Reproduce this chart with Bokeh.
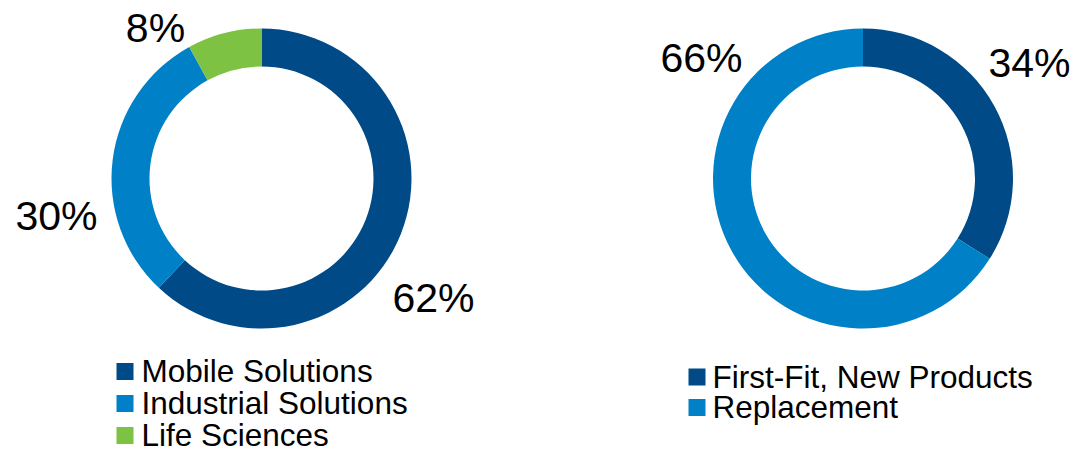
import math
from bokeh.plotting import figure
from bokeh.models import Range1d
from bokeh.core.properties import value
from bokeh.embed import file_html
from bokeh.resources import INLINE

# ---- data ----
seg_categories = ["Mobile Solutions", "Industrial Solutions", "Life Sciences"]
seg_values = [62, 30, 8]
seg_colors = ["#004B87", "#0080C6", "#7DC242"]

fit_categories = ["First-Fit, New Products", "Replacement"]
fit_values = [34, 66]
fit_colors = ["#004B87", "#0080C6"]

# ---- layout (page pixel coordinates) ----
W, H = 1076, 451
FONT = value("Liberation Sans")
TEXT_SHIFT = 10  # baseline correction

p = figure(width=W, height=H, output_backend="svg", toolbar_location=None,
           x_range=Range1d(0, W), y_range=Range1d(0, H),
           x_axis_type=None, y_axis_type=None, min_border=0)
p.grid.visible = False
p.outline_line_color = None
p.background_fill_color = "white"


def Y(py):
    return H - py


def donut(cx, cy, vals, cols, labels_pos):
    total = float(sum(vals))
    cum = 0.0
    starts, ends = [], []
    for v in vals:
        starts.append(math.pi / 2 - 2 * math.pi * cum / total)
        cum += v
        ends.append(math.pi / 2 - 2 * math.pi * cum / total)
    p.annular_wedge(x=[cx] * len(vals), y=[Y(cy)] * len(vals),
                    inner_radius=112, outer_radius=150,
                    start_angle=starts, end_angle=ends, direction="clock",
                    fill_color=cols, line_color=None)
    p.text(x=[lp[0] for lp in labels_pos],
           y=[Y(lp[1] - TEXT_SHIFT) for lp in labels_pos],
           text=[f"{v}%" for v in vals], text_font=FONT, text_font_size="41px",
           text_align="center", text_baseline="alphabetic", text_color="black")


def legend(sx, sy, tx, ty, step, cats, cols):
    n = len(cats)
    p.rect(x=[sx] * n, y=[Y(sy + i * step) for i in range(n)], width=17, height=17,
           fill_color=cols, line_color=None)
    p.text(x=[tx] * n, y=[Y(ty - TEXT_SHIFT + i * step) for i in range(n)], text=cats,
           text_font=FONT, text_font_size="31.5px", text_align="left",
           text_baseline="alphabetic", text_color="black")


donut(261, 178, seg_values, seg_colors, [(433, 307), (56, 225), (155, 37)])
donut(862.5, 178, fit_values, fit_colors, [(1029, 72), (701, 67)])

legend(124.5, 371, 141, 380, 32, seg_categories, seg_colors)
legend(696.5, 376.5, 712, 386, 30.5, fit_categories, fit_colors)

open("out.html", "w").write(file_html(p, INLINE))
